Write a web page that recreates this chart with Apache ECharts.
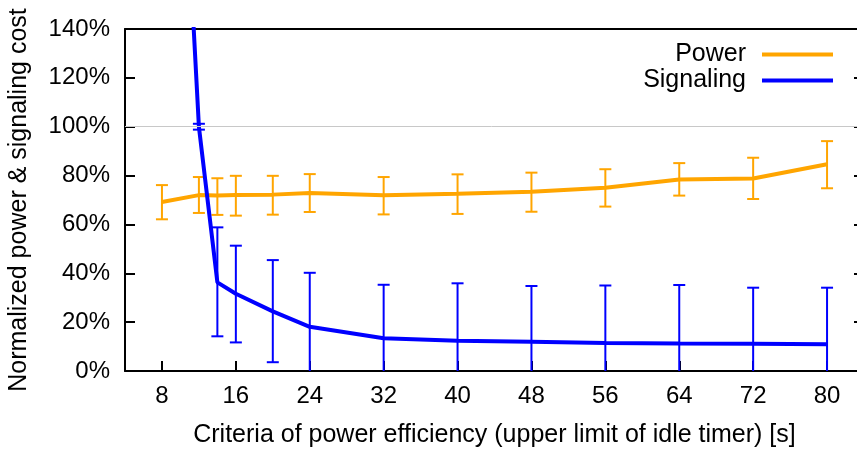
<!DOCTYPE html>
<html><head><meta charset="utf-8">
<script src="https://cdn.jsdelivr.net/npm/echarts@6/dist/echarts.min.js"></script>
<style>html,body{margin:0;padding:0;background:#fff}#c{width:857px;height:450px}</style>
</head><body><div id="c"></div>
<script>
const xTicks = [8, 16, 24, 32, 40, 48, 56, 64, 72, 80];
const yTicks = [0, 20, 40, 60, 80, 100, 120, 140];
const powerX = [8, 12, 14, 16, 20, 24, 32, 40, 48, 56, 64, 72, 80];
const powerY = [69.2, 72.0, 71.8, 72.0, 72.2, 72.9, 71.9, 72.6, 73.4, 75.0, 78.4, 78.8, 84.6];
const powerHi = [76.1, 79.4, 78.9, 79.9, 79.9, 80.6, 79.4, 80.5, 81.2, 82.6, 85.1, 87.3, 94.1];
const powerLo = [62.1, 64.7, 63.9, 63.6, 64.0, 65.1, 64.1, 64.3, 65.2, 67.3, 71.8, 70.4, 74.8];
const sigX = [8, 12, 14, 16, 20, 24, 32, 40, 48, 56, 64, 72, 80];
const sigY = [385, 100, 36.3, 31.6, 24.4, 18.1, 13.4, 12.4, 12.0, 11.5, 11.3, 11.2, 10.9];
const sigHi = [null, 101.2, 58.8, 51.3, 45.4, 40.2, 35.3, 35.9, 34.8, 35.0, 35.2, 34.1, 34.1];
const sigLo = [null, 98.8, 14.2, 11.7, 3.6, -4, -8.5, -11, -10.8, -12, -12.6, -11.7, -12.3];

const ORANGE = '#FFA500', BLUE = '#0000FF';
const FONT = 'Liberation Sans';
const FS = 24, FT = 25;

function pts(xs, ys) { return xs.map((x, i) => [x, ys[i]]); }
function errData(xs, lo, hi) {
  const out = [];
  xs.forEach((x, i) => { if (hi[i] != null) out.push([x, lo[i], hi[i]]); });
  return out;
}
function errRender(color) {
  return function (params, api) {
    const x = api.value(0), lo = api.value(1), hi = api.value(2);
    const a = api.coord([x, hi]), b = api.coord([x, lo]);
    const w = 6;
    const st = { stroke: color, lineWidth: 2 };
    return { type: 'group', children: [
      { type: 'line', shape: { x1: a[0], y1: a[1], x2: b[0], y2: b[1] }, style: st },
      { type: 'line', shape: { x1: a[0] - w, y1: a[1], x2: a[0] + w, y2: a[1] }, style: st },
      { type: 'line', shape: { x1: b[0] - w, y1: b[1], x2: b[0] + w, y2: b[1] }, style: st }
    ]};
  };
}

const chart = echarts.init(document.getElementById('c'), null, { renderer: 'canvas' });
const axisLineStyle = { color: '#000', width: 2 };
chart.setOption({
  animation: false,
  textStyle: { fontFamily: FONT },
  grid: { left: 125, width: 739, top: 29, height: 342, containLabel: false, outerBoundsMode: 'none' },
  legend: [
    { data: ['Power'], right: 24, top: 42, padding: 0, align: 'right', icon: 'rect', itemWidth: 71, itemHeight: 4,
      textStyle: { fontSize: FT, color: '#000', fontFamily: FONT, padding: [0, 11, 0, 0] } },
    { data: ['Signaling'], right: 24, top: 68, padding: 0, align: 'right', icon: 'rect', itemWidth: 71, itemHeight: 4,
      textStyle: { fontSize: FT, color: '#000', fontFamily: FONT, padding: [0, 11, 0, 0] } }
  ],
  xAxis: [
    { type: 'value', min: 4, max: 84, position: 'bottom',
      axisLine: { show: true, onZero: false, lineStyle: axisLineStyle },
      axisTick: { show: true, inside: true, length: 10, customValues: xTicks, lineStyle: { color: '#000', width: 2 } },
      axisLabel: { customValues: xTicks, fontSize: FS, color: '#000', margin: 13, fontFamily: FONT },
      splitLine: { show: false },
      name: 'Criteria of power efficiency (upper limit of idle timer) [s]',
      nameLocation: 'middle', nameGap: 52,
      nameTextStyle: { fontSize: FT, color: '#000', fontFamily: FONT } },
    { type: 'value', min: 4, max: 84, position: 'top',
      axisLine: { show: true, onZero: false, lineStyle: axisLineStyle },
      axisTick: { show: false }, axisLabel: { show: false }, splitLine: { show: false } }
  ],
  yAxis: [
    { type: 'value', min: 0, max: 140, interval: 20, position: 'left',
      axisLine: { show: true, onZero: false, lineStyle: axisLineStyle },
      axisTick: { show: true, inside: true, length: 10, lineStyle: { color: '#000', width: 2 } },
      axisLabel: { formatter: '{value}%', fontSize: FS, color: '#000', margin: 15, fontFamily: FONT },
      splitLine: { show: false },
      name: 'Normalized power & signaling cost', nameLocation: 'middle', nameGap: 93,
      nameTextStyle: { fontSize: FT, color: '#000', fontFamily: FONT } },
    { type: 'value', min: 0, max: 140, interval: 20, position: 'right',
      axisLine: { show: true, onZero: false, lineStyle: axisLineStyle },
      axisTick: { show: true, inside: true, length: 10, lineStyle: { color: '#000', width: 2 } },
      axisLabel: { show: false }, splitLine: { show: false } }
  ],
  series: [
    { name: 'grid100', type: 'line', data: [], z: 1, silent: true,
      markLine: { silent: true, symbol: 'none', label: { show: false },
        lineStyle: { color: '#c8c8c8', width: 1, type: 'solid' }, data: [{ yAxis: 100 }] } },
    { name: 'Power', type: 'line', data: pts(powerX, powerY), showSymbol: false, symbol: 'none',
      lineStyle: { color: ORANGE, width: 4 }, itemStyle: { color: ORANGE }, clip: true, z: 3 },
    { name: 'PowerErr', type: 'custom', data: errData(powerX, powerLo, powerHi), renderItem: errRender(ORANGE),
      encode: { x: 0, y: [1, 2] }, clip: true, z: 3, silent: true },
    { name: 'Signaling', type: 'line', data: pts(sigX, sigY), showSymbol: false, symbol: 'none',
      lineStyle: { color: BLUE, width: 4 }, itemStyle: { color: BLUE }, clip: true, z: 4 },
    { name: 'SigErr', type: 'custom', data: errData(sigX, sigLo, sigHi), renderItem: errRender(BLUE),
      encode: { x: 0, y: [1, 2] }, clip: true, z: 4, silent: true }
  ]
});
</script></body></html>
